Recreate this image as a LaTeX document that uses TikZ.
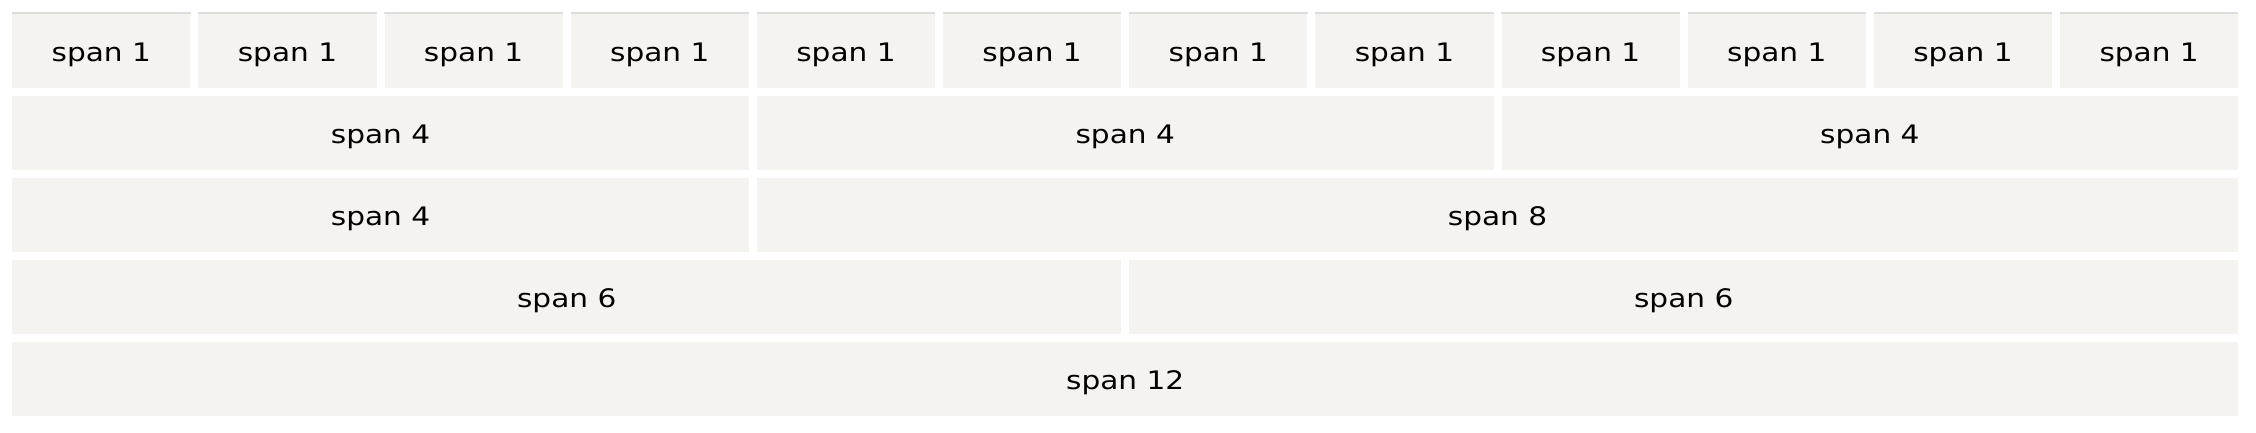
\documentclass[tikz,border=0pt]{standalone}
\usepackage{fontspec}
\setmainfont{DejaVu Sans}[FakeStretch=1.16]
\definecolor{cellbg}{RGB}{244,243,239}
\definecolor{cellrule}{RGB}{221,221,221}

\begin{document}
\begin{tikzpicture}[x=1pt, y=-1pt,
    cell/.style={rectangle, fill=cellbg, inner sep=0pt, anchor=north west,
      minimum height=74pt, text height=22pt, text depth=1pt,
      font=\fontsize{25.5}{30}\selectfont},
    colspan/.style={cell, minimum width={#1*178.1667+(#1-1)*8}}
  ]
  \useasboundingbox (0,0) rectangle (2256,432);

  % Row 1
  \foreach \x in {0,...,11} {
    \node[colspan=1] (a\x) at ({12+\x*186.1667}, 14) {span 1};
    \fill[cellrule] ([yshift=2pt]a\x.north west) rectangle (a\x.north east);
  }

  % Row 2
  \foreach \x in {0,1,2} {
    \node[colspan=4] (b\x) at ({12+\x*4*186.1667}, 96) {span 4};
  }

  % Row 3
  \node[colspan=4] (c0) at (12, 178) {span 4};
  \node[colspan=8] (c1) at ({12+4*186.1667}, 178) {span 8};

  % Row 4
  \node[colspan=6] (d0) at (12, 260) {span 6};
  \node[colspan=6] (d1) at ({12+6*186.1667}, 260) {span 6};

  % Row 5
  \node[colspan=12] (e0) at (12, 342) {span 12};
\end{tikzpicture}
\end{document}
